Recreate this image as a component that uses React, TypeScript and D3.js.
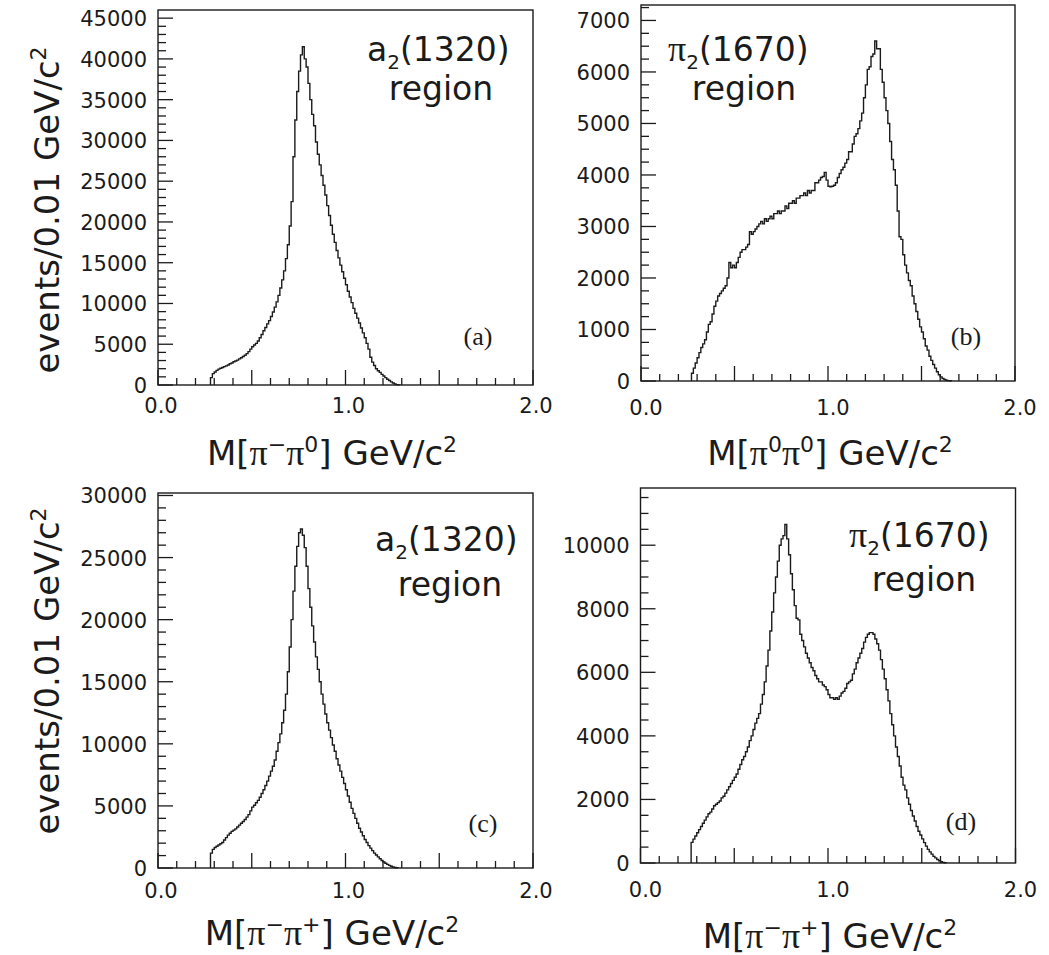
import React from 'react';
import * as d3 from 'd3';

// ---------------- data (events per 0.01 GeV/c^2 bin) ----------------
const BIN = 0.01;

const aStart = 0.28;
const aCounts = [
  900, 1400, 1600, 1800, 1950, 2050, 2150, 2250, 2350, 2450,
  2600, 2700, 2850, 2950, 3050, 3200, 3350, 3500, 3650, 3850,
  4100, 4400, 4700, 4900, 5100, 5400, 5800, 6200, 6650, 7050,
  7500, 7900, 8400, 8950, 9550, 10200, 11000, 11900, 12900, 14000,
  15500, 17200, 19500, 22500, 28000, 32500, 36000, 38500, 40500, 41500,
  40000, 39000, 37000, 35000, 33200, 31800, 29800, 28300, 27000, 25700,
  24500, 23300, 22000, 20800, 19600, 18500, 17500, 16500, 15600, 14700,
  13900, 13100, 12300, 11500, 10800, 10100, 9400, 8800, 8200, 7600,
  7000, 6400, 5800, 5100, 4400, 3400, 2800, 2400, 2000, 1750,
  1550, 1300, 1100, 900, 700, 550, 380, 240, 130, 50, 10,
];

const bStart = 0.27;
const bCounts = [
  150, 250, 350, 450, 550, 650, 720, 800, 950, 1100,
  1150, 1300, 1450, 1550, 1650, 1700, 1750, 1800, 1850, 2000,
  2300, 2200, 2250, 2200, 2300, 2400, 2500, 2550, 2550, 2600,
  2650, 2900, 2850, 2900, 2950, 3000, 3050, 3100, 3050, 3150,
  3100, 3150, 3200, 3150, 3250, 3250, 3300, 3250, 3300, 3300,
  3400, 3350, 3450, 3450, 3500, 3450, 3550, 3550, 3600, 3600,
  3650, 3600, 3700, 3650, 3700, 3700, 3850, 3850, 3900, 3950,
  3970, 4050, 3900, 3780, 3770, 3780, 3800, 3850, 3950, 4030,
  4100, 4150, 4230, 4300, 4450, 4450, 4600, 4750, 4800, 4900,
  5050, 5200, 5500, 5750, 6050, 6100, 6300, 6350, 6600, 6450,
  6450, 6050, 5800, 5500, 5250, 5000, 4650, 4300, 4100, 3800,
  3300, 2800, 2750, 2450, 2250, 2100, 1950, 1850, 1650, 1500,
  1350, 1200, 1050, 950, 820, 680, 600, 480, 400, 320,
  250, 180, 120, 80, 50, 30, 15, 8, 4,
];

const cStart = 0.28;
const cCounts = [
  1200, 1500, 1650, 1750, 1850, 1950, 2050, 2250, 2450, 2650,
  2800, 2950, 3050, 3150, 3300, 3450, 3600, 3750, 3900, 4100,
  4300, 4600, 4900, 5050, 5250, 5450, 5700, 6000, 6300, 6650,
  7000, 7400, 7800, 8200, 8700, 9400, 10100, 10800, 11700, 12700,
  14000, 15800, 17800, 20000, 22300, 24300, 25900, 27000, 27300, 26800,
  25800, 24300, 22500, 21000, 19500, 18200, 17000, 16000, 15000, 14000,
  13200, 12400, 11700, 11100, 10500, 9900, 9400, 8800, 8300, 7800,
  7300, 6800, 6300, 5800, 5300, 4800, 4400, 4000, 3600, 3200,
  2900, 2600, 2300, 2050, 1800, 1600, 1400, 1200, 1050, 900,
  750, 600, 480, 380, 290, 210, 140, 80, 40, 15,
];

const dStart = 0.27;
const dCounts = [
  650, 750, 850, 950, 1050, 1150, 1250, 1350, 1450, 1550,
  1600, 1700, 1800, 1850, 1900, 1950, 2050, 2100, 2200, 2300,
  2400, 2500, 2600, 2700, 2800, 2950, 3100, 3250, 3350, 3500,
  3650, 3850, 4000, 4200, 4400, 4550, 4700, 5000, 5300, 5700,
  6200, 6700, 7300, 7900, 8500, 9000, 9500, 10000, 10200, 10300,
  10650, 10200, 9700, 9100, 8600, 8100, 7700, 7650, 7200, 7000,
  6800, 6600, 6450, 6300, 6150, 6050, 5900, 5800, 5700, 5700,
  5600, 5550, 5450, 5300, 5200, 5200, 5150, 5200, 5150, 5250,
  5350, 5400, 5500, 5650, 5700, 5750, 5950, 6100, 6300, 6450,
  6600, 6750, 6950, 7100, 7200, 7250, 7250, 7200, 7050, 6900,
  6700, 6400, 6100, 5800, 5450, 5100, 4700, 4350, 4000, 3650,
  3350, 3050, 2700, 2450, 2300, 2050, 1850, 1650, 1480, 1320,
  1150, 1000, 880, 760, 640, 530, 430, 350, 280, 210,
  160, 110, 70, 40, 20, 8,
];

const xTickLabels = ['0.0', '1.0', '2.0'];
const aYTicks = [0, 5000, 10000, 15000, 20000, 25000, 30000, 35000, 40000, 45000];
const bYTicks = [0, 1000, 2000, 3000, 4000, 5000, 6000, 7000];
const cYTicks = [0, 5000, 10000, 15000, 20000, 25000, 30000];
const dYTicks = [0, 2000, 4000, 6000, 8000, 10000];

// ---------------- layout ----------------
const SANS = 'DejaVu Sans';
const SERIF = 'Liberation Serif';
const INK = '#1b1b1b';

type PanelCfg = {
  key: string;
  start: number;
  counts: number[];
  yTicks: number[];
  yMinor: number;
  yMax: number;
  left: number; right: number; top: number; bottom: number;
  xLabelBase: number; xLabelDx: number;
  title: 'pm0' | '00' | 'mp';
  titleCx: number; titleBase: number;
  particle: 'a2' | 'pi2';
  partX: number; partBase: number;
  regionCx: number; regionBase: number;
  tag: string; tagCx: number; tagBase: number;
  yTitle?: { x: number; cy: number };
};

const panels: PanelCfg[] = [
  {
    key: 'a', start: aStart, counts: aCounts, yTicks: aYTicks, yMinor: 1000, yMax: 46000,
    left: 158, right: 533, top: 10, bottom: 385, xLabelBase: 413, xLabelDx: 3,
    title: 'pm0', titleCx: 332, titleBase: 465,
    particle: 'a2', partX: 367, partBase: 61, regionCx: 441, regionBase: 100,
    tag: '(a)', tagCx: 478, tagBase: 345, yTitle: { x: 59, cy: 210 },
  },
  {
    key: 'b', start: bStart, counts: bCounts, yTicks: bYTicks, yMinor: 250, yMax: 7300,
    left: 641, right: 1015, top: 5, bottom: 381, xLabelBase: 415, xLabelDx: 5,
    title: '00', titleCx: 830, titleBase: 465,
    particle: 'pi2', partX: 668, partBase: 61, regionCx: 744, regionBase: 100,
    tag: '(b)', tagCx: 966, tagBase: 345,
  },
  {
    key: 'c', start: cStart, counts: cCounts, yTicks: cYTicks, yMinor: 1000, yMax: 30200,
    left: 158, right: 533, top: 493, bottom: 868, xLabelBase: 898, xLabelDx: 3,
    title: 'mp', titleCx: 332, titleBase: 945,
    particle: 'a2', partX: 375, partBase: 551, regionCx: 450, regionBase: 596,
    tag: '(c)', tagCx: 483, tagBase: 832, yTitle: { x: 59, cy: 671 },
  },
  {
    key: 'd', start: dStart, counts: dCounts, yTicks: dYTicks, yMinor: 500, yMax: 11800,
    left: 640.5, right: 1015.5, top: 488, bottom: 863, xLabelBase: 897, xLabelDx: 5,
    title: 'mp', titleCx: 830, titleBase: 948,
    particle: 'pi2', partX: 849, partBase: 547, regionCx: 924, regionBase: 591,
    tag: '(d)', tagCx: 961, tagBase: 830,
  },
];

function XTitle({ p }: { p: PanelCfg }) {
  const sup1 = p.title === '00' ? '0' : '\u2212';
  const sup2 = p.title === 'mp' ? '+' : '0';
  const up = -13;
  return (
    <text x={p.titleCx} y={p.titleBase} textAnchor="middle" fontFamily={SANS} fontSize={34} fill={INK}>
      M[
      <tspan fontFamily={SERIF} fontSize={36}>π</tspan>
      <tspan dy={up} fontSize={22}>{sup1}</tspan>
      <tspan dy={-up} fontFamily={SERIF} fontSize={36}>π</tspan>
      <tspan dy={up} fontSize={22}>{sup2}</tspan>
      <tspan dy={-up}>] GeV/c</tspan>
      <tspan dy={up} fontSize={22}>2</tspan>
    </text>
  );
}

function Panel({ p }: { p: PanelCfg }) {
  const x = d3.scaleLinear().domain([0, 2]).range([p.left, p.right]);
  const y = d3.scaleLinear().domain([0, p.yMax]).range([p.bottom, p.top]);

  const pts: [number, number][] = [[p.start, 0]];
  p.counts.forEach((c, i) => pts.push([p.start + i * BIN, c]));
  pts.push([p.start + p.counts.length * BIN, 0]);
  const line = d3.line<[number, number]>()
    .x((d) => x(d[0]))
    .y((d) => y(d[1]))
    .curve(d3.curveStepAfter);

  const xMinor = d3.range(0, 21).map((i) => i / 10);
  const yMinorTicks = d3.range(0, p.yMax + 1e-6, p.yMinor).filter((v) => y(v) > p.top + 1);

  return (
    <g>
      <path d={line(pts) || ''} fill="none" stroke={INK} strokeWidth={1.4} strokeLinejoin="miter" />
      {xMinor.map((v, i) => {
        const major = i % 5 === 0;
        return (
          <line key={'xt' + i} x1={x(v)} x2={x(v)} y1={p.bottom} y2={p.bottom - (major ? 15 : 7)}
            stroke={INK} strokeWidth={1.3} />
        );
      })}
      {yMinorTicks.map((v, i) => {
        const major = p.yTicks.some((t) => Math.abs(t - v) < 1e-6);
        return (
          <line key={'yt' + i} x1={p.left} x2={p.left + (major ? 15 : 8)} y1={y(v)} y2={y(v)}
            stroke={INK} strokeWidth={1.3} />
        );
      })}
      <rect x={p.left} y={p.top} width={p.right - p.left} height={p.bottom - p.top}
        fill="none" stroke={INK} strokeWidth={1.4} />
      {xTickLabels.map((t) => (
        <text key={'xl' + t} x={x(+t) + p.xLabelDx} y={p.xLabelBase} textAnchor="middle"
          fontFamily={SANS} fontSize={21} fill={INK}>{t}</text>
      ))}
      {p.yTicks.map((t) => (
        <text key={'yl' + t} x={p.left - 11} y={y(t) + 8} textAnchor="end"
          fontFamily={SANS} fontSize={21} fill={INK}>{t}</text>
      ))}
      <XTitle p={p} />
      {p.particle === 'a2' ? (
        <text x={p.partX} y={p.partBase} fontFamily={SANS} fontSize={33} fill={INK}>
          a<tspan dy={8} fontSize={20}>2</tspan><tspan dy={-8}>(1320)</tspan>
        </text>
      ) : (
        <text x={p.partX} y={p.partBase} fontFamily={SANS} fontSize={33} fill={INK}>
          <tspan fontFamily={SERIF} fontSize={36}>π</tspan>
          <tspan dy={8} fontSize={20}>2</tspan><tspan dy={-8}>(1670)</tspan>
        </text>
      )}
      <text x={p.regionCx} y={p.regionBase} textAnchor="middle" fontFamily={SANS} fontSize={33} fill={INK}>region</text>
      <text x={p.tagCx} y={p.tagBase} textAnchor="middle" fontFamily={SERIF} fontSize={26} fill={INK}>{p.tag}</text>
      {p.yTitle && (
        <text transform={`translate(${p.yTitle.x},${p.yTitle.cy}) rotate(-90)`} textAnchor="middle"
          fontFamily={SANS} fontSize={34} fill={INK}>
          events/0.01 GeV/c<tspan dy={-13} fontSize={22}>2</tspan>
        </text>
      )}
    </g>
  );
}

export default function App() {
  return (
    <svg width={1049} height={955} viewBox="0 0 1049 955"
      style={{ position: 'absolute', left: 0, top: 0, background: '#fff' }}>
      <rect x={0} y={0} width={1049} height={955} fill="#fff" />
      {panels.map((p) => <Panel key={p.key} p={p} />)}
    </svg>
  );
}
